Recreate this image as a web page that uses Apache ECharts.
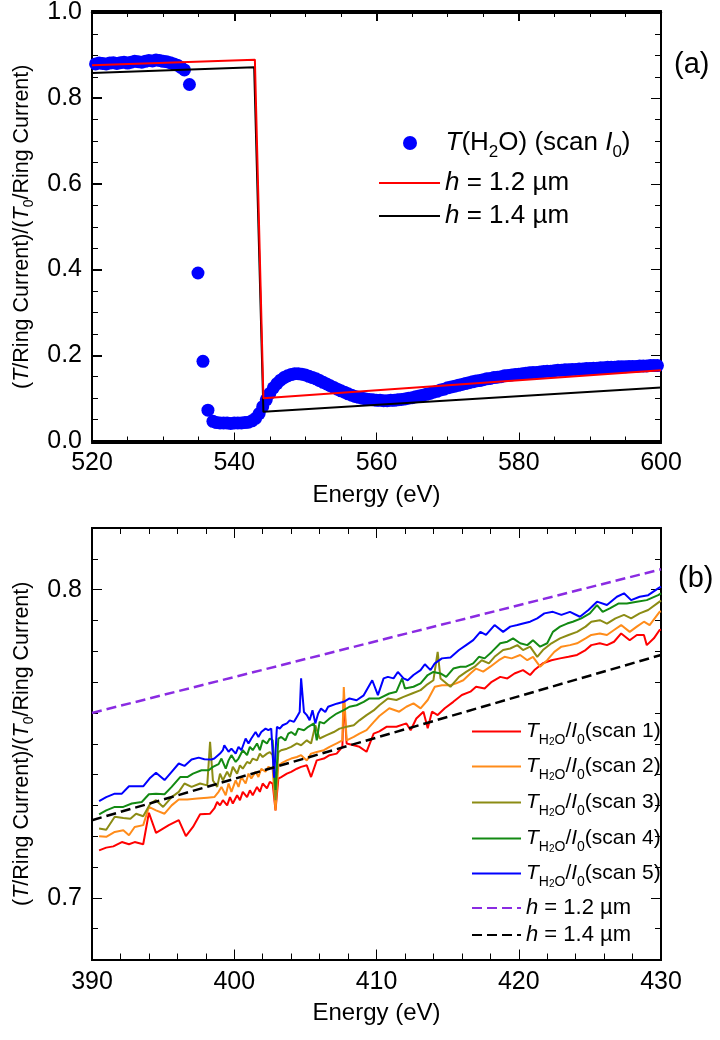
<!DOCTYPE html>
<html><head><meta charset="utf-8">
<script src="https://cdn.jsdelivr.net/npm/echarts@6/dist/echarts.min.js"></script>
<style>html,body{margin:0;padding:0;background:#fff}#c{width:720px;height:1040px}</style>
</head><body><div id="c"></div>
<script>
const waterDots = [
[520.5,0.880],[521.0,0.882],[521.5,0.881],[522.0,0.880],[522.5,0.882],[523.0,0.883],[523.5,0.881],[524.0,0.883],
[524.5,0.884],[525.0,0.882],[525.5,0.884],[526.0,0.886],[526.5,0.885],[527.0,0.884],[527.5,0.886],[528.0,0.888],
[528.5,0.887],[529.0,0.889],[529.5,0.888],[530.0,0.886],[530.5,0.885],[531.0,0.883],[531.5,0.880],[532.0,0.877],
[532.5,0.872],[533.0,0.866],[533.7,0.832],[534.9,0.392],[535.6,0.186],[536.3,0.072],[537.0,0.046],[537.5,0.043],
[538.0,0.042],[538.5,0.042],[539.0,0.042],[539.5,0.041],[540.0,0.042],[540.5,0.042],[541.0,0.042],[541.5,0.043],
[542.0,0.044],[542.5,0.047],[543.0,0.053],[543.5,0.064],[544.0,0.080],[544.5,0.096],[545.0,0.111],[545.5,0.124],
[546.0,0.134],[546.5,0.142],[547.0,0.148],[547.5,0.152],[548.0,0.155],[548.5,0.157],[549.0,0.157],[549.5,0.156],
[550.0,0.154],[550.5,0.151],[551.0,0.148],[551.5,0.145],[552.0,0.141],[552.5,0.137],[553.0,0.133],[553.5,0.129],
[554.0,0.125],[554.5,0.121],[555.0,0.117],[555.5,0.114],[556.0,0.110],[556.5,0.107],[557.0,0.104],[557.5,0.102],
[558.0,0.100],[558.5,0.098],[559.0,0.097],[559.5,0.096],[560.0,0.095],[560.5,0.095],[561.0,0.094],[561.5,0.094],
[562.0,0.095],[562.5,0.095],[563.0,0.096],[563.5,0.097],[564.0,0.098],[564.5,0.100],[565.0,0.101],[565.5,0.103],
[566.0,0.105],[566.5,0.107],[567.0,0.109],[567.5,0.111],[568.0,0.114],[568.5,0.116],[569.0,0.119],[569.5,0.121],
[570.0,0.124],[570.5,0.126],[571.0,0.128],[571.5,0.130],[572.0,0.132],[572.5,0.134],[573.0,0.136],[573.5,0.138],
[574.0,0.140],[574.5,0.141],[575.0,0.143],[575.5,0.145],[576.0,0.146],[576.5,0.148],[577.0,0.149],[577.5,0.150],
[578.0,0.152],[578.5,0.153],[579.0,0.154],[579.5,0.155],[580.0,0.156],[580.5,0.157],[581.0,0.158],[581.5,0.159],
[582.0,0.160],[582.5,0.160],[583.0,0.161],[583.5,0.162],[584.0,0.163],[584.5,0.163],[585.0,0.164],[585.5,0.165],
[586.0,0.165],[586.5,0.166],[587.0,0.166],[587.5,0.167],[588.0,0.167],[588.5,0.168],[589.0,0.168],[589.5,0.169],
[590.0,0.169],[590.5,0.170],[591.0,0.170],[591.5,0.171],[592.0,0.171],[592.5,0.172],[593.0,0.172],[593.5,0.172],
[594.0,0.173],[594.5,0.173],[595.0,0.173],[595.5,0.174],[596.0,0.174],[596.5,0.174],[597.0,0.175],[597.5,0.175],
[598.0,0.175],[598.5,0.176],[599.0,0.176],[599.5,0.176]
];
const modelA12 = [[520,0.877],[542.9,0.890],[544.1,0.100],[600,0.165]];
const modelA14 = [[520,0.859],[542.8,0.872],[544.1,0.068],[600,0.125]];

const scan1 = [[390.5,0.7154],[391.0,0.7163],[391.5,0.7167],[392.1,0.7181],[392.6,0.7174],[393.0,0.7181],[393.6,0.7174],[394.0,0.7276],[394.5,0.7211],[395.4,0.7236],[396.1,0.7252],[396.6,0.7200],[397.1,0.7230],[397.6,0.7271],[398.3,0.7273],[398.6,0.7290],[398.8,0.7311],[399.0,0.7300],[399.2,0.7317],[399.5,0.7300],[399.7,0.7327],[399.9,0.7306],[400.2,0.7333],[400.4,0.7317],[400.6,0.7344],[400.9,0.7327],[401.1,0.7349],[401.3,0.7333],[401.6,0.7360],[401.8,0.7344],[402.0,0.7371],[402.3,0.7355],[402.5,0.7376],[402.7,0.7371],[402.9,0.7284],[403.1,0.7387],[403.3,0.7392],[403.7,0.7403],[404.0,0.7409],[404.4,0.7419],[404.7,0.7425],[405.1,0.7430],[405.4,0.7392],[405.8,0.7446],[406.3,0.7452],[406.7,0.7463],[407.2,0.7468],[407.6,0.7490],[407.7,0.7647],[407.9,0.7501],[408.4,0.7495],[408.8,0.7490],[409.3,0.7474],[409.8,0.7533],[410.2,0.7540],[410.7,0.7555],[411.4,0.7555],[412.1,0.7566],[412.4,0.7544],[412.8,0.7582],[413.3,0.7604],[413.6,0.7550],[413.9,0.7604],[414.3,0.7593],[414.8,0.7615],[415.4,0.7636],[416.0,0.7658],[416.6,0.7669],[417.0,0.7685],[417.6,0.7679],[418.1,0.7701],[418.7,0.7717],[419.2,0.7712],[419.7,0.7728],[420.3,0.7739],[420.8,0.7723],[421.1,0.7739],[421.7,0.7761],[422.3,0.7771],[422.9,0.7777],[423.5,0.7782],[424.1,0.7788],[424.7,0.7804],[425.1,0.7820],[425.7,0.7826],[426.2,0.7820],[426.7,0.7831],[427.2,0.7858],[427.8,0.7836],[428.3,0.7853],[428.8,0.7853],[429.0,0.7820],[429.5,0.7842],[429.9,0.7869],[430.0,0.7870]];
const scan2 = [[390.5,0.7200],[391.0,0.7198],[391.6,0.7214],[392.2,0.7219],[392.6,0.7203],[393.0,0.7230],[393.6,0.7236],[394.0,0.7295],[394.5,0.7284],[395.1,0.7273],[395.6,0.7300],[396.1,0.7319],[396.7,0.7319],[397.4,0.7322],[398.1,0.7325],[398.6,0.7327],[398.9,0.7344],[399.1,0.7360],[399.4,0.7333],[399.6,0.7371],[399.8,0.7344],[400.1,0.7381],[400.3,0.7360],[400.5,0.7392],[400.8,0.7371],[401.0,0.7403],[401.2,0.7387],[401.5,0.7409],[401.7,0.7392],[401.9,0.7419],[402.2,0.7409],[402.4,0.7425],[402.7,0.7419],[402.9,0.7284],[403.1,0.7430],[403.3,0.7436],[403.7,0.7446],[404.0,0.7452],[404.4,0.7457],[404.7,0.7463],[405.1,0.7446],[405.4,0.7468],[405.8,0.7473],[406.3,0.7479],[406.7,0.7490],[407.2,0.7501],[407.6,0.7511],[407.7,0.7684],[407.9,0.7511],[408.4,0.7522],[408.8,0.7533],[409.3,0.7544],[409.8,0.7570],[410.2,0.7590],[410.9,0.7615],[411.6,0.7604],[412.1,0.7620],[412.6,0.7631],[413.1,0.7615],[413.6,0.7642],[414.1,0.7685],[414.6,0.7690],[415.2,0.7690],[415.6,0.7696],[416.1,0.7706],[416.6,0.7728],[417.0,0.7744],[417.5,0.7734],[418.0,0.7750],[418.6,0.7771],[419.0,0.7782],[419.5,0.7777],[420.1,0.7788],[420.6,0.7771],[421.0,0.7782],[421.5,0.7750],[422.0,0.7771],[422.5,0.7798],[423.0,0.7815],[423.6,0.7820],[424.1,0.7826],[424.7,0.7842],[425.1,0.7853],[425.7,0.7858],[426.2,0.7853],[426.7,0.7869],[427.2,0.7885],[427.8,0.7863],[428.3,0.7880],[428.8,0.7896],[429.2,0.7885],[429.9,0.7928],[430.0,0.7930]];
const scan3 = [[390.5,0.7225],[391.0,0.7221],[391.6,0.7263],[392.2,0.7259],[392.7,0.7257],[393.1,0.7273],[393.6,0.7265],[394.1,0.7306],[394.5,0.7317],[395.0,0.7295],[395.6,0.7327],[396.1,0.7344],[396.5,0.7371],[397.0,0.7360],[397.6,0.7371],[398.1,0.7365],[398.3,0.7506],[398.5,0.7381],[398.8,0.7360],[399.0,0.7403],[399.2,0.7381],[399.5,0.7409],[399.7,0.7392],[399.9,0.7425],[400.2,0.7403],[400.4,0.7430],[400.6,0.7419],[400.9,0.7441],[401.1,0.7436],[401.3,0.7452],[401.6,0.7446],[401.8,0.7468],[402.0,0.7457],[402.3,0.7468],[402.5,0.7473],[402.7,0.7463],[402.9,0.7317],[403.1,0.7473],[403.3,0.7479],[403.7,0.7484],[404.0,0.7490],[404.4,0.7501],[404.7,0.7495],[405.1,0.7511],[405.4,0.7501],[405.7,0.7560],[406.0,0.7517],[406.5,0.7528],[407.0,0.7538],[407.4,0.7549],[407.9,0.7555],[408.4,0.7560],[408.8,0.7576],[409.3,0.7593],[409.8,0.7608],[410.2,0.7625],[410.8,0.7647],[411.4,0.7642],[411.9,0.7652],[412.5,0.7663],[413.1,0.7674],[413.5,0.7690],[414.0,0.7706],[414.3,0.7798],[414.5,0.7712],[415.2,0.7685],[415.8,0.7717],[416.3,0.7733],[416.9,0.7750],[417.4,0.7771],[417.9,0.7761],[418.3,0.7782],[418.9,0.7804],[419.4,0.7809],[419.9,0.7820],[420.3,0.7804],[420.8,0.7815],[421.3,0.7782],[421.7,0.7804],[422.3,0.7826],[422.9,0.7842],[423.5,0.7853],[424.1,0.7863],[424.7,0.7880],[425.1,0.7896],[425.7,0.7901],[426.2,0.7890],[426.8,0.7907],[427.4,0.7918],[427.9,0.7907],[428.5,0.7923],[429.1,0.7934],[429.9,0.7961],[430.0,0.7965]];
const scan4 = [[390.5,0.7271],[391.0,0.7284],[391.6,0.7295],[392.2,0.7295],[392.8,0.7306],[393.5,0.7311],[394.0,0.7336],[394.5,0.7338],[395.1,0.7336],[395.6,0.7360],[396.2,0.7392],[396.7,0.7392],[397.1,0.7403],[397.7,0.7414],[398.2,0.7414],[398.5,0.7425],[398.9,0.7434],[399.1,0.7452],[399.4,0.7419],[399.6,0.7446],[399.8,0.7463],[400.1,0.7441],[400.3,0.7452],[400.6,0.7479],[400.9,0.7463],[401.1,0.7490],[401.3,0.7479],[401.6,0.7501],[401.8,0.7479],[402.0,0.7511],[402.3,0.7501],[402.5,0.7517],[402.7,0.7511],[402.9,0.7350],[403.1,0.7517],[403.3,0.7522],[403.6,0.7511],[403.8,0.7533],[404.0,0.7538],[404.3,0.7528],[404.5,0.7549],[404.9,0.7544],[405.2,0.7555],[405.6,0.7566],[405.8,0.7511],[406.0,0.7571],[406.3,0.7566],[406.7,0.7582],[407.2,0.7598],[407.7,0.7609],[408.1,0.7620],[408.6,0.7625],[409.1,0.7636],[409.5,0.7647],[410.2,0.7647],[410.9,0.7663],[411.4,0.7669],[411.8,0.7712],[412.0,0.7679],[412.6,0.7685],[413.1,0.7696],[413.6,0.7723],[414.0,0.7733],[414.5,0.7728],[414.9,0.7717],[415.4,0.7744],[415.9,0.7750],[416.3,0.7750],[416.8,0.7761],[417.2,0.7782],[417.6,0.7777],[418.1,0.7798],[418.7,0.7826],[419.2,0.7831],[419.6,0.7842],[420.1,0.7826],[420.6,0.7820],[421.0,0.7836],[421.5,0.7815],[422.0,0.7826],[422.4,0.7863],[422.9,0.7880],[423.4,0.7890],[423.8,0.7896],[424.4,0.7907],[425.0,0.7923],[425.5,0.7950],[425.9,0.7928],[426.4,0.7939],[427.0,0.7955],[427.6,0.7955],[428.3,0.7961],[429.0,0.7966],[429.8,0.7982],[430.0,0.7988]];
const scan5 = [[390.5,0.7314],[391.0,0.7327],[391.6,0.7338],[392.1,0.7338],[392.6,0.7362],[393.1,0.7362],[393.6,0.7362],[394.1,0.7390],[394.5,0.7406],[395.1,0.7382],[395.6,0.7409],[396.1,0.7436],[396.5,0.7428],[397.0,0.7449],[397.5,0.7455],[397.9,0.7450],[398.4,0.7449],[398.6,0.7452],[399.0,0.7468],[399.2,0.7479],[399.3,0.7495],[399.6,0.7474],[399.8,0.7484],[400.1,0.7468],[400.3,0.7490],[400.5,0.7479],[400.8,0.7517],[401.0,0.7501],[401.2,0.7517],[401.5,0.7538],[401.7,0.7522],[401.9,0.7538],[402.2,0.7549],[402.4,0.7544],[402.6,0.7549],[402.8,0.7390],[403.0,0.7555],[403.2,0.7549],[403.4,0.7560],[403.7,0.7566],[403.9,0.7576],[404.2,0.7571],[404.4,0.7587],[404.6,0.7603],[404.7,0.7712],[404.9,0.7603],[405.1,0.7593],[405.3,0.7576],[405.5,0.7609],[405.7,0.7566],[405.9,0.7598],[406.1,0.7614],[406.4,0.7603],[406.6,0.7620],[407.2,0.7630],[407.7,0.7636],[408.1,0.7647],[408.6,0.7641],[409.1,0.7657],[409.7,0.7706],[410.1,0.7658],[410.5,0.7712],[410.8,0.7717],[411.2,0.7712],[411.5,0.7733],[411.9,0.7712],[412.2,0.7706],[412.6,0.7723],[413.1,0.7739],[413.4,0.7758],[413.8,0.7739],[414.1,0.7761],[414.6,0.7777],[415.2,0.7780],[415.8,0.7804],[416.3,0.7820],[416.8,0.7836],[417.3,0.7863],[417.7,0.7853],[418.3,0.7885],[418.9,0.7863],[419.4,0.7880],[419.9,0.7885],[420.3,0.7890],[420.8,0.7896],[421.3,0.7907],[421.8,0.7923],[422.4,0.7928],[423.0,0.7918],[423.6,0.7928],[424.3,0.7912],[424.9,0.7934],[425.5,0.7961],[426.2,0.7950],[426.9,0.7977],[427.4,0.7988],[427.9,0.7966],[428.5,0.7977],[429.1,0.7982],[429.8,0.8004],[430.0,0.8010]];
const modelB12 = [[390,0.7600],[430,0.8066]];
const modelB14 = [[390,0.7252],[430,0.7788]];

// axis ranges and tick spacing
const xRangeA = {min:520, max:600}; const xMajorA = 20, xMinorA = 5;
const yRangeA = {min:0, max:1};     const yMajorA = 0.2, yMinorA = 0.05;
const xRangeB = {min:390, max:430}; const xMajorB = 10, xMinorB = 2;
const yRangeB = {min:0.68, max:0.82}; const yMinorB = 0.01;
const yLabelsB = [0.7, 0.8];

const F = 'Liberation Sans, Arial, sans-serif';
const BLK = '#000';
const GA = {left:92, top:11, width:569, height:430};
const GB = {left:92, top:528, width:569, height:431.5};

function mkRich(fs, sfs, ssfs, lh, mlh){
  return {
    n:{fontFamily:F,fontSize:fs,lineHeight:lh,color:BLK},
    i:{fontFamily:F,fontSize:fs,fontStyle:'italic',lineHeight:lh,color:BLK},
    s:{fontFamily:F,fontSize:sfs,lineHeight:sfs,verticalAlign:'bottom',color:BLK},
    sh:{fontFamily:F,fontSize:sfs,lineHeight:sfs+4,verticalAlign:'bottom',color:BLK},
    ss:{fontFamily:F,fontSize:ssfs,lineHeight:ssfs,verticalAlign:'bottom',color:BLK},
    m:{fontFamily:F,fontSize:fs,lineHeight:mlh,color:BLK},
    mi:{fontFamily:F,fontSize:fs,fontStyle:'italic',lineHeight:mlh,color:BLK}
  };
}
const richA = mkRich(26,17,12,36,28);
const richB = Object.assign(mkRich(21,14,10,32,24), {
  m:{fontFamily:F,fontSize:22,lineHeight:24,color:BLK},
  mi:{fontFamily:F,fontSize:22,fontStyle:'italic',lineHeight:24,color:BLK}});
const richAxis = {
  n:{fontFamily:F,fontSize:21.5,lineHeight:28,color:BLK},
  i:{fontFamily:F,fontSize:21.5,fontStyle:'italic',lineHeight:28,color:BLK},
  s:{fontFamily:F,fontSize:14,lineHeight:14,verticalAlign:'bottom',color:BLK}
};
const yName = '{n|(}{i|T}{n|/Ring Current)/(}{i|T}{s|0}{n|/Ring Current)}';
const labelText = {
  a0:'{i|T}{n|(H}{s|2}{n|O) (scan }{i|I}{s|0}{n|)}',
  a12:'{mi|h}{m| = 1.2 µm}', a14:'{mi|h}{m| = 1.4 µm}',
  b12:'{mi|h}{m| = 1.2 µm}', b14:'{mi|h}{m| = 1.4 µm}'
};
[1,2,3,4,5].forEach(k=>{ labelText['b'+k] = '{i|T}{sh|H}{ss|2}{sh|O}{n|/}{i|I}{s|0}{n|(scan '+k+')}'; });

function axLine(){ return {show:true,onZero:false,lineStyle:{color:BLK,width:2}}; }
function lbl(){ return {show:true,color:BLK,fontFamily:F,fontSize:25,margin:10}; }

function frameX(grid, r, iv, pos, withLabel){
  return {type:'value',gridIndex:grid,position:pos,min:r.min,max:r.max,interval:iv,
    axisLine:axLine(),axisTick:{show:false},splitLine:{show:false},
    axisLabel:withLabel?lbl():{show:false},
    name:withLabel?'Energy (eV)':'',nameLocation:'middle',nameGap:42,
    nameTextStyle:{fontFamily:F,fontSize:24,color:BLK}};
}
// Tick axis on the opposite edge (negative offset): its outward ticks point into the box.
function tickAxis(grid, r, iv, pos, off, len, custom, ls){
  const t = {show:true,length:len};
  if (custom) t.customValues = custom;
  if (ls) t.lineStyle = ls;
  return {type:'value',gridIndex:grid,position:pos,offset:off,min:r.min,max:r.max,interval:iv,
    axisLine:axLine(),axisLabel:{show:false},splitLine:{show:false},axisTick:t};
}

function legendRow(name, left, top, w, rich, isLine){
  const d = isLine ? {name:name, itemStyle:{opacity:0}} : {name:name};
  return {orient:'vertical',left:left,top:top,itemWidth:w,itemHeight:14,selectedMode:false,padding:0,
    data:[d],formatter:n=>labelText[n],textStyle:{rich:rich}};
}

const option = {
  animation:false,
  grid:[
    Object.assign({containLabel:false},GA),
    Object.assign({containLabel:false},GB)
  ],
  xAxis:[
    frameX(0,xRangeA,xMajorA,'bottom',true),                  // 0
    frameX(0,xRangeA,xMajorA,'top',false),                    // 1
    tickAxis(0,xRangeA,xMajorA,'top',-GA.height,10),          // 2
    tickAxis(0,xRangeA,xMinorA,'top',-GA.height,6),           // 3
    tickAxis(0,xRangeA,xMajorA,'bottom',-GA.height,10,null,{width:2}), // 4 (test: width only)
    tickAxis(0,xRangeA,xMinorA,'bottom',-GA.height,6),        // 5
    frameX(1,xRangeB,xMajorB,'bottom',true),                  // 6
    frameX(1,xRangeB,xMajorB,'top',false),                    // 7
    tickAxis(1,xRangeB,xMajorB,'top',-GB.height,10),          // 8
    tickAxis(1,xRangeB,xMinorB,'top',-GB.height,6),           // 9
    tickAxis(1,xRangeB,xMajorB,'bottom',-GB.height,10),       // 10
    tickAxis(1,xRangeB,xMinorB,'bottom',-GB.height,6)         // 11
  ],
  yAxis:[
    {type:'value',gridIndex:0,position:'left',min:yRangeA.min,max:yRangeA.max,interval:yMajorA,
     axisLine:axLine(),axisTick:{show:false},splitLine:{show:false},
     axisLabel:Object.assign(lbl(),{formatter:v=>v.toFixed(1)}),
     name:yName,nameLocation:'middle',nameRotate:90,nameGap:52,
     nameTextStyle:{fontFamily:F,fontSize:21.5,color:BLK,rich:richAxis}},                   // 0
    {type:'value',gridIndex:0,position:'right',min:yRangeA.min,max:yRangeA.max,interval:yMajorA,
     axisLine:axLine(),axisTick:{show:false},splitLine:{show:false},axisLabel:{show:false}}, // 1
    tickAxis(0,yRangeA,yMajorA,'right',-GA.width,10,null,{color:'#000',width:2}), // 2 (test: colour + width)
    tickAxis(0,yRangeA,yMinorA,'right',-GA.width,6),          // 3
    tickAxis(0,yRangeA,yMajorA,'left',-GA.width,10),          // 4
    tickAxis(0,yRangeA,yMinorA,'left',-GA.width,6),           // 5
    {type:'value',gridIndex:1,position:'left',min:yRangeB.min,max:yRangeB.max,interval:yMinorB,
     axisLine:axLine(),axisTick:{show:false},splitLine:{show:false},
     axisLabel:Object.assign(lbl(),{customValues:yLabelsB,formatter:v=>Number(v).toFixed(1)}),
     name:yName,nameLocation:'middle',nameRotate:90,nameGap:52,
     nameTextStyle:{fontFamily:F,fontSize:21.5,color:BLK,rich:richAxis}},                   // 6
    {type:'value',gridIndex:1,position:'right',min:yRangeB.min,max:yRangeB.max,interval:yMinorB,
     axisLine:axLine(),axisTick:{show:false},splitLine:{show:false},axisLabel:{show:false}}, // 7
    tickAxis(1,yRangeB,yMinorB,'right',-GB.width,10,yLabelsB),// 8
    tickAxis(1,yRangeB,yMinorB,'right',-GB.width,6),          // 9
    tickAxis(1,yRangeB,yMinorB,'left',-GB.width,10,yLabelsB), // 10
    tickAxis(1,yRangeB,yMinorB,'left',-GB.width,6)            // 11
  ],
  legend:[
    legendRow('a0',403,130,61,richA,false),
    legendRow('a12',378,170,61,richA,true),
    legendRow('a14',378,203,61,richA,true),
    legendRow('b1',471,721,49,richB,true),
    legendRow('b2',471,756,49,richB,true),
    legendRow('b3',471,792,49,richB,true),
    legendRow('b4',471,828,49,richB,true),
    legendRow('b5',471,863,49,richB,true),
    legendRow('b12',471,897,49,richB,true),
    legendRow('b14',471,924,49,richB,true)
  ],
  graphic:[
    {type:'text',left:674,top:50,style:{text:'(a)',font:'29px '+F,fill:BLK}},
    {type:'text',left:678,top:564,style:{text:'(b)',font:'29px '+F,fill:BLK}}
  ],
  series:[
    {name:'a0',type:'scatter',xAxisIndex:0,yAxisIndex:0,data:waterDots,symbol:'circle',symbolSize:13,
     itemStyle:{color:'#0000ff',opacity:1},z:2},
    {name:'a14',type:'line',xAxisIndex:0,yAxisIndex:0,data:modelA14,symbol:'none',
     lineStyle:{color:'#000',width:2},itemStyle:{color:'#000'},z:3},
    {name:'a12',type:'line',xAxisIndex:0,yAxisIndex:0,data:modelA12,symbol:'none',
     lineStyle:{color:'#ff0000',width:2},itemStyle:{color:'#ff0000'},z:4},
    ...[[scan1,'#ff0000'],[scan2,'#ff8c1a'],[scan3,'#8c8c14'],[scan4,'#138a13'],[scan5,'#0000ff']].map((p,k)=>(
      {name:'b'+(k+1),type:'line',xAxisIndex:6,yAxisIndex:6,data:p[0],symbol:'none',
       lineStyle:{color:p[1],width:2},itemStyle:{color:p[1]},z:2})),
    {name:'b12',type:'line',xAxisIndex:6,yAxisIndex:6,data:modelB12,symbol:'none',
     lineStyle:{color:'#8a2be2',width:2.5,type:[10,5]},itemStyle:{color:'#8a2be2'},z:5},
    {name:'b14',type:'line',xAxisIndex:6,yAxisIndex:6,data:modelB14,symbol:'none',
     lineStyle:{color:'#000',width:2.5,type:[10,5]},itemStyle:{color:'#000'},z:5}
  ]
};
const chart = echarts.init(document.getElementById('c'),null,{renderer:'canvas'});
chart.setOption(option);
</script></body></html>
